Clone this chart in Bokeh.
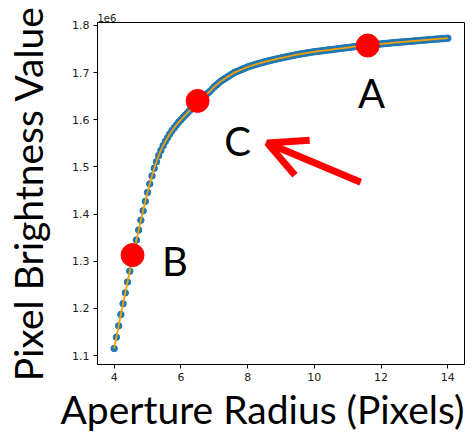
import numpy as np
from bokeh.plotting import figure
from bokeh.models import Range1d, FixedTicker, CustomJSTickFormatter, Title, Arrow, OpenHead, ColumnDataSource
from bokeh.core.properties import value
from bokeh.embed import file_html
from bokeh.resources import INLINE

# ---- data ----
radius_start, radius_stop, radius_count = 4.0, 14.0, 151
brightness = [
    1.115, 1.139, 1.163, 1.187, 1.210, 1.233, 1.256, 1.279, 1.301, 1.323, 1.345, 1.366, 1.387, 1.407, 1.427,
    1.446, 1.464, 1.481, 1.497, 1.511, 1.524, 1.535, 1.545, 1.554, 1.562, 1.570, 1.577, 1.583, 1.589, 1.595,
    1.600, 1.605, 1.610, 1.615, 1.620, 1.625, 1.630, 1.635, 1.640, 1.644, 1.648, 1.652, 1.656, 1.660, 1.665,
    1.670, 1.674, 1.678, 1.682, 1.685, 1.688, 1.691, 1.694, 1.697, 1.700, 1.702, 1.704, 1.706, 1.708, 1.710,
    1.712, 1.7135, 1.715, 1.7165, 1.718, 1.7193, 1.7206, 1.7219, 1.7232, 1.7244, 1.7256, 1.7267, 1.7278, 1.7289, 1.730,
    1.731, 1.732, 1.733, 1.734, 1.735, 1.736, 1.737, 1.738, 1.7389, 1.7397, 1.7405, 1.7412, 1.742, 1.7427, 1.7435,
    1.7442, 1.7448, 1.7454, 1.746, 1.7466, 1.7472, 1.7478, 1.7484, 1.749, 1.7496, 1.7502, 1.7508, 1.7514, 1.752, 1.7526,
    1.7532, 1.7538, 1.7544, 1.755, 1.7556, 1.7561, 1.7566, 1.7571, 1.7576, 1.7581, 1.7586, 1.759, 1.7595, 1.76, 1.7604,
    1.7609, 1.7613, 1.7618, 1.7622, 1.7627, 1.7631, 1.7635, 1.764, 1.7644, 1.7648, 1.7652, 1.7656, 1.766, 1.7664, 1.7668,
    1.7672, 1.7676, 1.768, 1.7684, 1.7688, 1.7692, 1.7696, 1.77, 1.7704, 1.7708, 1.7712, 1.7715, 1.7719, 1.7722, 1.7726,
    1.773,
]
brightness_scale = 1e6

highlight_names = ["A", "B", "C"]
highlight_radius = [11.6, 4.55, 6.5]
highlight_value = [1.7575, 1.313, 1.640]

label_x = [11.71, 5.82, 7.70]
label_y = [1.657, 1.301, 1.554]

arrow_tail = [11.39, 1.4673]
arrow_tip = [8.59, 1.5507]

x_ticks = [4, 6, 8, 10, 12, 14]
y_ticks = [1.1, 1.2, 1.3, 1.4, 1.5, 1.6, 1.7, 1.8]

x_title = "Aperture Radius (Pixels)"
y_title = "Pixel Brightness Value"
offset_text = "1e6"

radius = np.linspace(radius_start, radius_stop, radius_count)
vals = np.array(brightness) * brightness_scale

p = figure(width=475, height=434, output_backend="svg", toolbar_location=None,
           x_range=Range1d(3.5, 14.5), y_range=Range1d(1.081e6, 1.8063e6),
           min_border_left=97, min_border_right=11, min_border_top=22, min_border_bottom=70)
p.grid.visible = False
p.outline_line_color = "black"
p.outline_line_width = 1
p.background_fill_color = "white"
p.border_fill_color = "white"

for ax in (p.xaxis[0], p.yaxis[0]):
    ax.major_tick_out = 4
    ax.major_tick_in = 0
    ax.minor_tick_line_color = None
    ax.major_tick_line_color = "black"
    ax.axis_line_color = "black"
    ax.major_label_text_font = "DejaVu Sans"
    ax.major_label_text_font_size = "11px"
    ax.major_label_text_color = "#222222"
    ax.major_label_standoff = 4

p.xaxis.ticker = FixedTicker(ticks=x_ticks)
p.yaxis.ticker = FixedTicker(ticks=[t * brightness_scale for t in y_ticks])
p.yaxis.formatter = CustomJSTickFormatter(code="return (tick/1e6).toFixed(1);")

p.yaxis.axis_label = y_title
p.yaxis.axis_label_text_font = "Lato"
p.yaxis.axis_label_text_font_size = "39px"
p.yaxis.axis_label_text_font_style = "normal"
p.yaxis.axis_label_text_color = "black"
p.yaxis.axis_label_standoff = 18

src = ColumnDataSource(dict(x=radius, y=vals))
p.scatter("x", "y", source=src, size=6.5, color="#1f77b4")
p.line("x", "y", source=src, line_color="#f5a000", line_width=1.8)

hs = ColumnDataSource(dict(x=highlight_radius, y=[v * brightness_scale for v in highlight_value]))
p.scatter("x", "y", source=hs, size=23, color="#ff0000")

ls = ColumnDataSource(dict(x=label_x, y=[v * brightness_scale for v in label_y], t=highlight_names))
p.text("x", "y", text="t", source=ls, text_font=value("Lato"), text_font_size="40px",
       text_align="center", text_baseline="middle", text_color="black")

p.add_layout(Arrow(end=OpenHead(size=38, line_color="red", line_width=7),
                   x_start=arrow_tail[0], y_start=arrow_tail[1] * brightness_scale,
                   x_end=arrow_tip[0], y_end=arrow_tip[1] * brightness_scale,
                   line_color="red", line_width=7))

p.add_layout(Title(text=offset_text, align="left", offset=0, standoff=2,
                   text_font="DejaVu Sans", text_font_size="10px", text_font_style="normal",
                   text_color="#222222"), "above")
p.add_layout(Title(text=x_title, align="left", offset=-37, standoff=0,
                   text_font="Lato", text_font_size="39px", text_font_style="normal",
                   text_color="black"), "below")

open("out.html", "w").write(file_html(p, INLINE))
